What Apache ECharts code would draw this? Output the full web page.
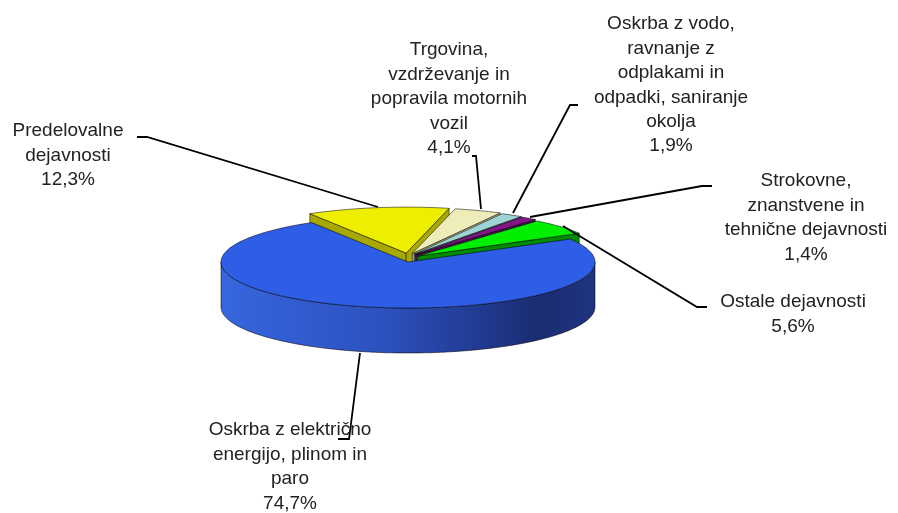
<!DOCTYPE html>
<html>
<head>
<meta charset="utf-8">
<script src="https://cdn.jsdelivr.net/npm/echarts@6/dist/echarts.min.js"></script>
<style>
  html, body { margin: 0; padding: 0; background: #fff; }
  #main { width: 898px; height: 513px; }
</style>
</head>
<body>
<div id="main"></div>
<script>
// podatki
var categories = [
  'Predelovalne dejavnosti',
  'Trgovina, vzdrževanje in popravila motornih vozil',
  'Oskrba z vodo, ravnanje z odplakami in odpadki, saniranje okolja',
  'Strokovne, znanstvene in tehnične dejavnosti',
  'Ostale dejavnosti',
  'Oskrba z električno energijo, plinom in paro'
];
var shares = [12.3, 4.1, 1.9, 1.4, 5.6, 74.7];
var labelText = [
  ['Predelovalne', 'dejavnosti'],
  ['Trgovina,', 'vzdrževanje in', 'popravila motornih', 'vozil'],
  ['Oskrba z vodo,', 'ravnanje z', 'odplakami in', 'odpadki, saniranje', 'okolja'],
  ['Strokovne,', 'znanstvene in', 'tehnične dejavnosti'],
  ['Ostale dejavnosti'],
  ['Oskrba z električno', 'energijo, plinom in', 'paro']
];

// izgled
var topColors = ['#eeee00', '#eeecb8', '#9dd3d3', '#85168a', '#00ee00', '#2e5de6'];
var sideColors = ['#a8a800', '#b3b088', '#6ea3a3', '#560c5a', '#008c00', '#2848b0'];
var explode = [1, 1, 1, 1, 1, 0];
var labelBox = [[68, 119], [449, 38], [671, 12], [806, 169], [793, 290], [290, 418]];
var leaders = [
  [[137, 137], [147, 137], [378, 207]],
  [[472, 156], [476, 156], [481, 209]],
  [[578, 105], [570, 105], [513, 213]],
  [[712, 186], [702, 186], [530, 217]],
  [[707, 307], [697, 307], [563, 226]],
  [[338, 439], [349, 439], [360, 353]]
];
var startDeg = -31;
var cx = 408, cy = 262, rx = 187, ry = 46, depth = 45;
var explodeX = 12, explodeY = 9;
var RAD = Math.PI / 180;

function pt(t, ox, oy, dz) {
  return [cx + ox + rx * Math.sin(t * RAD), cy + oy - ry * Math.cos(t * RAD) + dz];
}
function arc(a, b, ox, oy, dz) {
  var pts = [], n = Math.max(2, Math.ceil(Math.abs(b - a)));
  for (var k = 0; k <= n; k++) pts.push(pt(a + (b - a) * k / n, ox, oy, dz));
  return pts;
}

var total = shares.reduce(function (s, v) { return s + v; }, 0);
var edge = { stroke: 'rgba(0,0,0,0.75)', lineWidth: 0.7 };

function renderItem(params, api) {
  var i = params.dataIndex;
  var before = 0;
  for (var j = 0; j < i; j++) before += shares[j];
  var a = startDeg + before / total * 360;
  var b = a + api.value(0) / total * 360;
  var mid = (a + b) / 2 * RAD;
  var ox = explode[i] ? explodeX * Math.sin(mid) : 0;
  var oy = explode[i] ? -explodeY * Math.cos(mid) : 0;
  var apex = [cx + ox, cy + oy];
  var children = [];

  function cutFace(t) {
    var o = pt(t, ox, oy, 0);
    return {
      type: 'polygon', z2: 1,
      shape: { points: [apex, o, [o[0], o[1] + depth], [apex[0], apex[1] + depth]] },
      style: Object.assign({ fill: sideColors[i] }, edge)
    };
  }
  if (Math.sin(a * RAD) < 0) children.push(cutFace(a));
  if (Math.sin(b * RAD) > 0) children.push(cutFace(b));

  // zunanja stena (sprednji del)
  var wa = Math.max(a, 90), wb = Math.min(b, 270);
  if (wb > wa) {
    var up = arc(wa, wb, ox, oy, 0);
    var down = arc(wa, wb, ox, oy, depth).reverse();
    children.push({
      type: 'polygon', z2: 2,
      shape: { points: up.concat(down) },
      style: Object.assign({
        fill: new echarts.graphic.LinearGradient(0, 0, 1, 0, [
          { offset: 0, color: '#3766de' },
          { offset: 0.45, color: '#2c50bd' },
          { offset: 0.85, color: '#1a2c72' },
          { offset: 1, color: '#1f3380' }
        ])
      }, edge)
    });
  }

  // zgornja ploskev
  children.push({
    type: 'polygon', z2: 3,
    shape: { points: [apex].concat(arc(a, b, ox, oy, 0)) },
    style: Object.assign({ fill: topColors[i] }, edge)
  });

  // oznaka
  var pct = api.value(0).toFixed(1).replace('.', ',') + '%';
  children.push({
    type: 'polyline', z2: 4,
    shape: { points: leaders[i] },
    style: { stroke: '#000', lineWidth: 1.8, fill: null }
  });
  children.push({
    type: 'text', z2: 5,
    style: {
      text: labelText[i].concat([pct]).join('\n'),
      x: labelBox[i][0], y: labelBox[i][1],
      align: 'center', verticalAlign: 'top',
      fontSize: 19, lineHeight: 24.4,
      fontFamily: '"Liberation Sans", Arial, sans-serif',
      fill: '#222'
    }
  });

  return { type: 'group', children: children };
}

var chart = echarts.init(document.getElementById('main'));
chart.setOption({
  animation: false,
  series: [{
    type: 'custom',
    coordinateSystem: 'none',
    renderItem: renderItem,
    data: shares.map(function (v, i) { return { value: v, name: categories[i] }; })
  }]
});
</script>
</body>
</html>
